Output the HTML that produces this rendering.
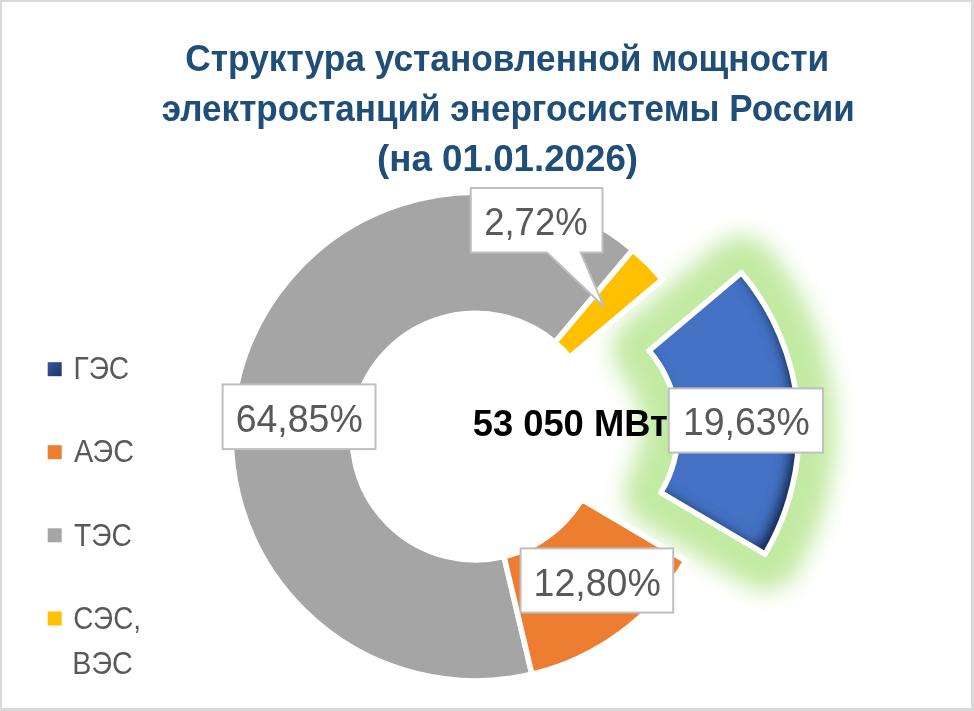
<!DOCTYPE html>
<html><head><meta charset="utf-8"><style>
html,body{margin:0;padding:0;width:974px;height:711px;overflow:hidden;background:#fff;font-family:"Liberation Sans",sans-serif}
</style></head><body>

<svg width="974" height="711" viewBox="0 0 974 711" style="position:absolute;left:0;top:0;will-change:transform">
<defs>
  <filter id="glow" x="-50%" y="-50%" width="200%" height="200%">
    <feGaussianBlur in="SourceGraphic" stdDeviation="11"/>
  </filter>
  <linearGradient id="mk" x1="0" y1="0" x2="1" y2="1"><stop offset="0" stop-color="#34589E"/><stop offset="1" stop-color="#1E3568"/></linearGradient>
  <filter id="inner" x="-10%" y="-10%" width="120%" height="120%">
    <feComponentTransfer in="SourceAlpha" result="inv"><feFuncA type="table" tableValues="1 0"/></feComponentTransfer>
    <feOffset in="inv" dx="-8" dy="-8" result="off"/>
    <feGaussianBlur in="off" stdDeviation="6" result="blur"/>
    <feComposite in="blur" in2="SourceAlpha" operator="in" result="sh"/>
    <feFlood flood-color="#14264A" flood-opacity="1.0"/>
    <feComposite in2="sh" operator="in" result="shc"/>
    <feMerge><feMergeNode in="SourceGraphic"/><feMergeNode in="shc"/></feMerge>
  </filter>
</defs>
<rect x="0" y="0" width="974" height="711" fill="#D9D9D9"/>
<rect x="2" y="2" width="969" height="706" fill="#FFFFFF"/>
<g font-family="Liberation Sans, sans-serif" font-weight="bold" fill="#1F4E79" font-size="36.8">
  <text x="185.3" y="71.4" textLength="644.0" lengthAdjust="spacingAndGlyphs">Структура установленной мощности</text>
  <text x="161.8" y="121.0" textLength="693.0" lengthAdjust="spacingAndGlyphs">электростанций энергосистемы России</text>
  <text x="377.1" y="170.5" textLength="261.0" lengthAdjust="spacingAndGlyphs">(на 01.01.2026)</text>
</g>
<path d="M741.52,272.66 A244.2,244.2 0 0 1 764.99,554.14 L660.89,492.66 A123.3,123.3 0 0 0 649.04,350.53 Z" fill="#C3EAA3" stroke="#C3EAA3" stroke-width="73.0" stroke-linejoin="round" filter="url(#glow)"/>
<path d="M531.89,674.20 A244.2,244.2 0 1 1 632.82,249.83 L554.93,342.30 A123.3,123.3 0 1 0 503.97,556.57 Z" fill="#A5A5A5" stroke="#fff" stroke-width="5.5" stroke-linejoin="miter"/>
<path d="M632.82,249.83 A244.2,244.2 0 0 1 662.29,279.31 L569.81,357.18 A123.3,123.3 0 0 0 554.93,342.30 Z" fill="#FFC000" stroke="#fff" stroke-width="5.5" stroke-linejoin="miter"/>
<path d="M685.76,560.79 A244.2,244.2 0 0 1 531.89,674.20 L503.97,556.57 A123.3,123.3 0 0 0 581.66,499.31 Z" fill="#ED7D31" stroke="#fff" stroke-width="5.5" stroke-linejoin="miter"/>
<g filter="url(#inner)"><path d="M741.52,272.66 A244.2,244.2 0 0 1 764.99,554.14 L660.89,492.66 A123.3,123.3 0 0 0 649.04,350.53 Z" fill="#4472C4"/></g>
<path d="M741.52,272.66 A244.2,244.2 0 0 1 764.99,554.14 L660.89,492.66 A123.3,123.3 0 0 0 649.04,350.53 Z" fill="none" stroke="#fff" stroke-width="5.5" stroke-linejoin="round"/>
<g font-family="Liberation Sans, sans-serif" font-size="31.6" fill="#595959">
<rect x="47.7" y="362.2" width="14" height="14" fill="url(#mk)"/>
<text x="73.4" y="379.4" textLength="55.8" lengthAdjust="spacingAndGlyphs">ГЭС</text>
<rect x="47.7" y="445.2" width="14" height="14" fill="#ED7D31"/>
<text x="74.0" y="462.4" textLength="59.9" lengthAdjust="spacingAndGlyphs">АЭС</text>
<rect x="47.7" y="528.3" width="14" height="14" fill="#A5A5A5"/>
<text x="74.0" y="545.5" textLength="57.8" lengthAdjust="spacingAndGlyphs">ТЭС</text>
<rect x="47.7" y="611.5" width="14" height="14" fill="#FFC000"/>
<text x="73.3" y="628.7" textLength="67.7" lengthAdjust="spacingAndGlyphs">СЭС,</text>
<text x="72.3" y="674.1" textLength="60.5" lengthAdjust="spacingAndGlyphs">ВЭС</text>
</g>
<text x="472.7" y="436.3" font-family="Liberation Sans, sans-serif" font-weight="bold" font-size="36.3" fill="#000" textLength="195.0" lengthAdjust="spacingAndGlyphs">53 050 МВт</text>
<rect x="222.6" y="384.4" width="152.9" height="64.70000000000005" fill="#fff" stroke="#BFBFBF" stroke-width="2"/>
<text x="235.7" y="432.3" font-family="Liberation Sans, sans-serif" font-size="38.4" fill="#595959" textLength="127.0" lengthAdjust="spacingAndGlyphs">64,85%</text>
<rect x="668.8" y="388.4" width="154.10000000000002" height="64.20000000000005" fill="#fff" stroke="#BFBFBF" stroke-width="2"/>
<text x="682.9" y="435.4" font-family="Liberation Sans, sans-serif" font-size="38.4" fill="#595959" textLength="126.9" lengthAdjust="spacingAndGlyphs">19,63%</text>
<rect x="520.6" y="548.4" width="152.60000000000002" height="64.20000000000005" fill="#fff" stroke="#BFBFBF" stroke-width="2"/>
<text x="533.6" y="596.0" font-family="Liberation Sans, sans-serif" font-size="38.4" fill="#595959" textLength="127.2" lengthAdjust="spacingAndGlyphs">12,80%</text>
<path d="M470.8,188.1 H602.5 V252.4 H580.7 L604,306.8 L546.9,252.4 H470.8 Z" fill="#fff" stroke="#BFBFBF" stroke-width="2"/>
<text x="484.2" y="234.9" font-family="Liberation Sans, sans-serif" font-size="38.4" fill="#595959" textLength="103.4" lengthAdjust="spacingAndGlyphs">2,72%</text>
</svg>
</body></html>
